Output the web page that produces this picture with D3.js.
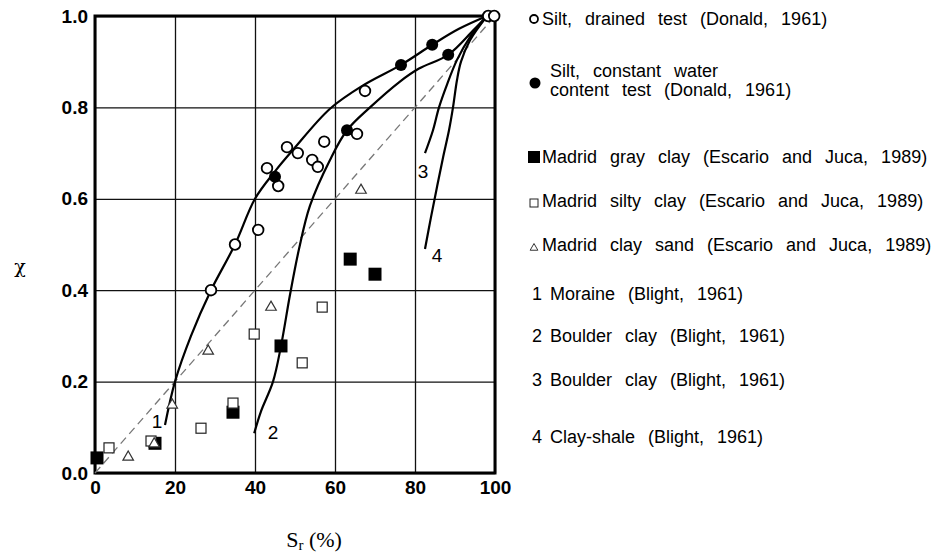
<!DOCTYPE html>
<html>
<head>
<meta charset="utf-8">
<script src="https://cdn.jsdelivr.net/npm/d3@7"></script>
<style>
  body { margin: 0; background: #fff; }
</style>
</head>
<body>
<div class="chart"></div>
<script>
// Chart size
const width = 940;
const height = 554;
const margin = {top: 16, right: 445, bottom: 81, left: 95};
const inner_width = width - margin.left - margin.right;
const inner_height = height - margin.top - margin.bottom;

// Data: [Sr (%), chi]
const silt_drained = [[29, 0.40], [35, 0.50], [40.8, 0.532], [43, 0.667], [45.8, 0.628],
  [48, 0.713], [50.7, 0.70], [54.3, 0.685], [55.7, 0.67], [57.3, 0.725],
  [65.5, 0.742], [67.5, 0.836], [98.3, 1.0], [99.8, 1.0]];
const silt_constant = [[45, 0.648], [63, 0.75], [76.5, 0.893], [84.3, 0.937], [88.3, 0.915]];
const gray_clay = [[0.5, 0.033], [15, 0.065], [34.5, 0.133], [46.5, 0.278], [63.8, 0.468], [70, 0.435]];
const silty_clay = [[3.5, 0.055], [14, 0.07], [26.5, 0.098], [34.5, 0.153], [39.8, 0.304], [51.8, 0.241], [56.8, 0.363]];
const clay_sand = [[8.3, 0.037], [14.8, 0.066], [19.3, 0.151], [28.3, 0.269], [44, 0.365], [66.5, 0.621]];

// Blight (1961) curves
const curve_moraine = [[17.5, 0.105], [20, 0.2], [24, 0.3], [29, 0.4], [35, 0.5], [40, 0.6],
  [45, 0.66], [49.5, 0.707], [58.75, 0.797], [67, 0.848], [76.5, 0.893], [84.3, 0.937], [91, 0.972], [98, 1.0]];
const curve_boulder2 = [[39.8, 0.087], [41.5, 0.135], [44.5, 0.2], [46.5, 0.278], [48.75, 0.39],
  [51, 0.49], [53.75, 0.585], [58.75, 0.685], [63, 0.75], [68.75, 0.8], [76, 0.855],
  [81, 0.885], [88.3, 0.915], [94.5, 0.968], [98, 1.0]];
const curve_boulder3 = [[82.5, 0.70], [84.5, 0.75], [86, 0.8], [88, 0.85], [90.5, 0.904], [93.75, 0.954], [98, 1.0]];
const curve_shale = [[82.5, 0.49], [84, 0.56], [85.5, 0.626], [87, 0.69], [88.5, 0.75], [89.5, 0.8],
  [90.5, 0.86], [91.5, 0.9], [93.75, 0.947], [98, 1.0]];
const curve_labels = [['1', 15.5, 0.112], ['2', 44.5, 0.088], ['3', 82, 0.66], ['4', 85.5, 0.475]];

const x_ticks = [0, 20, 40, 60, 80, 100];
const y_ticks = [0, 0.2, 0.4, 0.6, 0.8, 1.0];

const legend_items = [
  {sym: 'open-circle', lines: ['Silt, drained test (Donald, 1961)'], y: 19},
  {sym: 'filled-circle', lines: ['Silt, constant water', 'content test (Donald, 1961)'], y: 80},
  {sym: 'filled-square', lines: ['Madrid gray clay (Escario and Juca, 1989)'], y: 157},
  {sym: 'open-square', lines: ['Madrid silty clay (Escario and Juca, 1989)'], y: 201},
  {sym: 'triangle', lines: ['Madrid clay sand (Escario and Juca, 1989)'], y: 245},
  {sym: '1', lines: ['Moraine (Blight, 1961)'], y: 294},
  {sym: '2', lines: ['Boulder clay (Blight, 1961)'], y: 336},
  {sym: '3', lines: ['Boulder clay (Blight, 1961)'], y: 380},
  {sym: '4', lines: ['Clay-shale  (Blight, 1961)'], y: 437}
];

const sans = '"Liberation Sans", Arial, Helvetica, sans-serif';
const serif = '"Liberation Serif", "Times New Roman", serif';

const svg = d3.select('.chart').append('svg')
  .attr('width', width)
  .attr('height', height)
  .style('display', 'block');

const xScale = d3.scaleLinear().domain([0, 100]).range([0, inner_width]);
const yScale = d3.scaleLinear().domain([0, 1]).range([inner_height, 0]);

const chart = svg.append('g').attr('transform', `translate(${margin.left}, ${margin.top})`);

// Grid + axes
chart.append('g')
  .attr('transform', `translate(0, ${inner_height})`)
  .call(d3.axisBottom(xScale).tickValues(x_ticks).tickSize(-inner_height).tickPadding(8).tickFormat(d3.format('d')))
  .call(g => g.select('.domain').remove())
  .call(g => g.selectAll('.tick line').attr('stroke', '#111').attr('stroke-width', 1.3))
  .call(g => g.selectAll('.tick text')
    .attr('fill', '#000')
    .style('font-family', sans).style('font-size', '19px').style('font-weight', 'bold'));

chart.append('g')
  .call(d3.axisLeft(yScale).tickValues(y_ticks).tickSize(-inner_width).tickPadding(7).tickFormat(d3.format('.1f')))
  .call(g => g.select('.domain').remove())
  .call(g => g.selectAll('.tick line').attr('stroke', '#111').attr('stroke-width', 1.3))
  .call(g => g.selectAll('.tick text')
    .attr('fill', '#000')
    .style('font-family', sans).style('font-size', '19px').style('font-weight', 'bold'));

// Frame
chart.append('rect')
  .attr('width', inner_width)
  .attr('height', inner_height)
  .attr('fill', 'none')
  .attr('stroke', '#000')
  .attr('stroke-width', 3);

// 1:1 dashed line
chart.append('line')
  .attr('x1', xScale(0)).attr('y1', yScale(0))
  .attr('x2', xScale(100)).attr('y2', yScale(1))
  .attr('stroke', '#777')
  .attr('stroke-width', 1.3)
  .attr('stroke-dasharray', '8,5');

// Curves
const line = d3.line()
  .x(d => xScale(d[0]))
  .y(d => yScale(d[1]))
  .curve(d3.curveCatmullRom.alpha(0.5));

chart.append('g')
  .selectAll('path')
  .data([curve_moraine, curve_boulder2, curve_boulder3, curve_shale])
  .join('path')
    .attr('d', line)
    .attr('fill', 'none')
    .attr('stroke', '#000')
    .attr('stroke-width', 2.2);

chart.append('g')
  .selectAll('text')
  .data(curve_labels)
  .join('text')
    .attr('x', d => xScale(d[1]))
    .attr('y', d => yScale(d[2]))
    .attr('text-anchor', 'middle')
    .attr('dominant-baseline', 'central')
    .style('font-family', sans)
    .style('font-size', '19px')
    .text(d => d[0]);

// Markers
const markers = chart.append('g');
const tri = d3.symbol().type(d3.symbolTriangle).size(48);

markers.selectAll('.gray').data(gray_clay).join('rect')
  .attr('x', d => xScale(d[0]) - 6.5).attr('y', d => yScale(d[1]) - 6.5)
  .attr('width', 13).attr('height', 13)
  .attr('fill', '#000');

markers.selectAll('.silty').data(silty_clay).join('rect')
  .attr('x', d => xScale(d[0]) - 5).attr('y', d => yScale(d[1]) - 5)
  .attr('width', 10).attr('height', 10)
  .attr('fill', '#fff').attr('stroke', '#222').attr('stroke-width', 1.2);

markers.selectAll('.sand').data(clay_sand).join('path')
  .attr('d', tri)
  .attr('transform', d => `translate(${xScale(d[0])}, ${yScale(d[1]) + 1})`)
  .attr('fill', '#fff').attr('stroke', '#333').attr('stroke-width', 1.2);

markers.selectAll('.drained').data(silt_drained).join('circle')
  .attr('cx', d => xScale(d[0])).attr('cy', d => yScale(d[1]))
  .attr('r', 5.3)
  .attr('fill', '#fff').attr('stroke', '#000').attr('stroke-width', 1.8);

markers.selectAll('.constant').data(silt_constant).join('circle')
  .attr('cx', d => xScale(d[0])).attr('cy', d => yScale(d[1]))
  .attr('r', 6)
  .attr('fill', '#000');

// Axis titles
svg.append('text')
  .attr('x', 20).attr('y', 266)
  .attr('text-anchor', 'middle')
  .attr('dominant-baseline', 'central')
  .style('font-family', '"DejaVu Serif", serif')
  .style('font-size', '19px')
  .text('χ');

const xt = svg.append('text')
  .attr('x', 314).attr('y', 547)
  .attr('text-anchor', 'middle')
  .style('font-family', serif)
  .style('font-size', '22px');
xt.append('tspan').text('S');
xt.append('tspan').attr('font-size', '15px').attr('dy', 3).text('r');
xt.append('tspan').attr('dy', -3).text(' (%)');

// Legend
const legend = svg.append('g').style('font-family', sans).style('font-size', '18px');
legend_items.forEach(item => {
  const g = legend.append('g').attr('transform', `translate(0, ${item.y})`);
  const n = item.lines.length;
  const sx = 534;
  if (item.sym === 'open-circle') {
    g.append('circle').attr('cx', sx).attr('r', 4).attr('fill', '#fff').attr('stroke', '#000').attr('stroke-width', 1.8);
  } else if (item.sym === 'filled-circle') {
    g.append('circle').attr('cx', sx + 1).attr('cy', 3).attr('r', 5.5).attr('fill', '#000');
  } else if (item.sym === 'filled-square') {
    g.append('rect').attr('x', sx - 6).attr('y', -6).attr('width', 12).attr('height', 12).attr('fill', '#000');
  } else if (item.sym === 'open-square') {
    g.append('rect').attr('x', sx - 4).attr('y', -2).attr('width', 8).attr('height', 8)
      .attr('fill', '#fff').attr('stroke', '#222').attr('stroke-width', 1);
  } else if (item.sym === 'triangle') {
    g.append('path').attr('d', d3.symbol().type(d3.symbolTriangle).size(26))
      .attr('transform', `translate(${sx}, 3)`)
      .attr('fill', '#fff').attr('stroke', '#333').attr('stroke-width', 1);
  } else {
    g.append('text').attr('x', sx - 2).attr('dominant-baseline', 'central').text(item.sym);
  }
  const tx = (item.sym === 'open-circle' || item.sym.endsWith('square') || item.sym === 'triangle') ? 542 : 550;
  item.lines.forEach((t, i) => {
    g.append('text')
      .attr('x', tx)
      .attr('y', (i - (n - 1) / 2) * 19)
      .attr('dominant-baseline', 'central')
      .style('word-spacing', '8px')
      .text(t);
  });
});
</script>
</body>
</html>
